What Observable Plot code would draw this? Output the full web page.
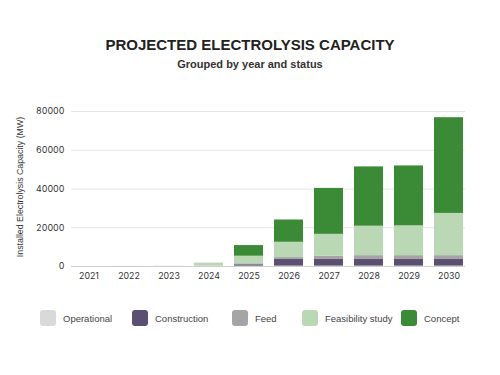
<!DOCTYPE html>
<html>
<head>
<meta charset="utf-8">
<script src="https://cdn.jsdelivr.net/npm/d3@7"></script>
<script src="https://cdn.jsdelivr.net/npm/@observablehq/plot@0.6"></script>
<style>
  html, body { margin: 0; padding: 0; background: #fff; }
  #wrap { position: relative; width: 500px; height: 375px; overflow: hidden; font-family: "Liberation Sans", Arial, sans-serif; }
  #title { position: absolute; top: 36px; left: 0; width: 500px; text-align: center; font-weight: bold; font-size: 15px; color: #222; }
  #subtitle { position: absolute; top: 58px; left: 0; width: 500px; text-align: center; font-weight: bold; font-size: 11px; color: #333; }
  #chart { position: absolute; top: 80px; left: 0; }
  #ylabel { position: absolute; left: 20px; top: 187px; transform: translate(-50%, -50%) rotate(-90deg); white-space: nowrap; font-size: 8.8px; color: #333; }
  #legend { position: absolute; top: 310px; left: 0; width: 500px; height: 16px; }
  .item { position: absolute; top: 0; height: 16px; display: flex; align-items: center; font-size: 9.5px; color: #444; white-space: nowrap; }
  .sw { width: 16px; height: 16px; border-radius: 3px; margin-right: 7px; flex: none; }
</style>
</head>
<body>
<div id="wrap">
  <div id="title">PROJECTED ELECTROLYSIS CAPACITY</div>
  <div id="subtitle">Grouped by year and status</div>
  <div id="ylabel">Installed Electrolysis Capacity (MW)</div>
  <div id="chart"></div>
  <div id="legend"></div>
</div>
<script>
const years = ["2021", "2022", "2023", "2024", "2025", "2026", "2027", "2028", "2029", "2030"];
const statuses = ["Operational", "Construction", "Feed", "Feasibility study", "Concept"];
const colors = ["#d9d9d9", "#5c5072", "#a5a5a5", "#bad8b4", "#3b8b36"];
const operational = [60, 80, 120, 150, 200, 200, 200, 200, 200, 200];
const construction = [0, 0, 0, 50, 700, 3400, 3400, 3400, 3400, 3400];
const feed = [0, 0, 0, 50, 500, 1000, 1700, 2000, 2000, 2000];
const feasibility = [0, 0, 0, 1400, 3900, 7900, 11300, 15200, 15400, 21800];
const concept = [0, 0, 0, 50, 5500, 11500, 23700, 30600, 30900, 49400];
const yTicks = [0, 20000, 40000, 60000, 80000];
const legendX = [40, 132, 232, 302, 401];

const series = [operational, construction, feed, feasibility, concept];
const rows = [];
years.forEach((yr, i) => {
  statuses.forEach((s, j) => rows.push({year: yr, status: s, value: series[j][i]}));
});

const chart = Plot.plot({
  width: 500,
  height: 210,
  marginLeft: 71,
  marginRight: 35,
  marginTop: 31,
  marginBottom: 24,
  style: {fontFamily: "Inter, 'Open Sans', sans-serif", fontSize: "8.8px", color: "#333", background: "transparent"},
  x: {domain: years, paddingInner: 0.28, paddingOuter: 0, label: null, tickSize: 0, tickPadding: 6},
  y: {domain: [0, 80000], ticks: yTicks, tickFormat: d => String(d), label: null, tickSize: 0, tickPadding: 7},
  color: {domain: statuses, range: colors},
  marks: [
    Plot.gridY(yTicks, {stroke: "#e6e6e6", strokeOpacity: 1}),
    Plot.barY(rows, {x: "year", y: "value", fill: "status", order: statuses}),
    Plot.ruleY([0], {stroke: "#cfcfcf"})
  ]
});
document.getElementById("chart").appendChild(chart);

const legend = document.getElementById("legend");
statuses.forEach((s, j) => {
  const it = document.createElement("div");
  it.className = "item";
  it.style.left = legendX[j] + "px";
  const sw = document.createElement("div");
  sw.className = "sw";
  sw.style.background = colors[j];
  const t = document.createElement("span");
  t.textContent = s;
  it.appendChild(sw);
  it.appendChild(t);
  legend.appendChild(it);
});
</script>
</body>
</html>
